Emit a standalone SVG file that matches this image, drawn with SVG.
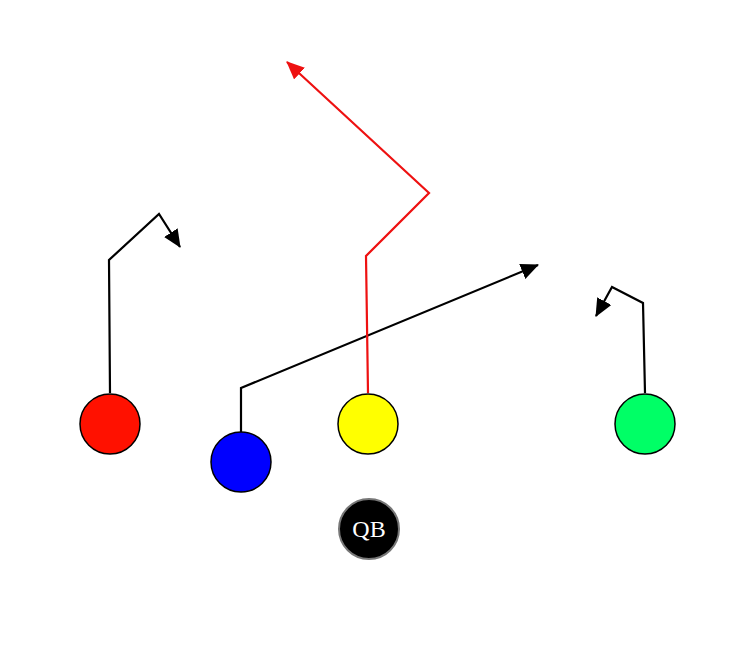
<svg xmlns="http://www.w3.org/2000/svg" width="750" height="655" viewBox="0 0 750 655">
<style>
.route{fill:none;stroke-width:2.2;stroke-linejoin:miter}
.blk{stroke:#000}
.red{stroke:#ee1111}
.player{stroke:#000;stroke-width:1.5}
.qb{fill:#000;stroke:#777;stroke-width:2}
.lbl{font-family:"Liberation Serif","DejaVu Serif",serif;font-size:24px;fill:#fff;text-anchor:middle}
</style>
<defs>
<marker id="ah" markerUnits="userSpaceOnUse" markerWidth="20" markerHeight="18" refX="17" refY="8" orient="auto">
<path d="M0,0 L18,8 L0,16 Z" fill="#000"/>
</marker>
<marker id="ahr" markerUnits="userSpaceOnUse" markerWidth="20" markerHeight="18" refX="17" refY="8" orient="auto">
<path d="M0,0 L18,8 L0,16 Z" fill="#ee1111"/>
</marker>
</defs>
<g id="connectors">
<polyline class="route blk" points="110,393 109,260 159,214 180,247" marker-end="url(#ah)"/>
<polyline class="route blk" points="241,432 241,388 538,265" marker-end="url(#ah)"/>
<polyline class="route red" points="368,393 366,256 429,193 287,62" marker-end="url(#ahr)"/>
<polyline class="route blk" points="645,393 643,303 612,287 596,316" marker-end="url(#ah)"/>
</g>
<g id="red-player"><circle class="player" cx="110" cy="424" r="30" fill="#ff1100"/></g>
<g id="blue-player"><circle class="player" cx="241" cy="462" r="30" fill="#0000ff"/></g>
<g id="yellow-player"><circle class="player" cx="368" cy="424" r="30" fill="#ffff00"/></g>
<g id="green-player"><circle class="player" cx="645" cy="424" r="30" fill="#00ff66"/></g>
<g id="qb"><circle class="qb" cx="369" cy="529" r="30"/><text class="lbl" x="369" y="537">QB</text></g>
</svg>
